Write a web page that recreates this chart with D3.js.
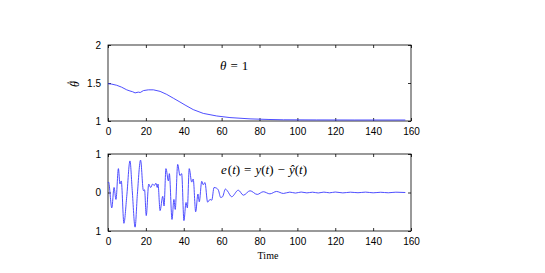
<!DOCTYPE html>
<html><head><meta charset="utf-8">
<script src="https://cdn.jsdelivr.net/npm/d3@7"></script>
<style>body{margin:0;background:#fff}svg{display:block}</style>
</head><body>
<script>
// ---- data ----
const xTicks = [0,20,40,60,80,100,120,140,160];
const thetaTicks = [1,1.5,2];
const thetaTickLabels = ["1","1.5","2"];
const eTicks = [-1,0,1];
const eTickLabels = ["1","0","1"];

const thetaTime = [0,2,4.6,7.2,9.9,11.6,13,14.3,16,17,18.7,21.3,24,27.5,31,34.5,38,40.7,45,50.3,57.4,64.4,75,85,92.6,110,130,157];
const thetaValue = [1.49,1.485,1.47,1.445,1.41,1.395,1.385,1.37,1.38,1.375,1.40,1.41,1.41,1.39,1.35,1.30,1.25,1.21,1.15,1.10,1.066,1.045,1.028,1.02,1.016,1.014,1.013,1.013];

const eTime = [0,0.3,2,3.2,4.2,5.5,6.3,7,8.4,9.9,11.6,12.8,14.3,15.5,17.2,18.7,19.3,20.2,21.5,22.5,23.6,24.4,25.3,26,26.4,27.5,28.9,29.6,30.6,31.9,32.4,33.8,34.8,35.5,36.8,38,38.9,40.1,41.2,41.9,42.9,44.2,45,46.3,47.5,48.2,49.5,50.3,51.2,52.6,53.9,54.8,56,57.4,58.3,59.5,60.5,62,63,65.3,68.8,71.5,75,78.8,82,85.5,89,92.6,96,99,102,105,108,111,114,117,120,124,128,132,136,140,144,148,152,157];
const eValue = [0.25,0.27,-0.4,0.13,-0.18,0.62,0.22,0.3,-0.8,-0.1,0.82,0.05,-0.9,-0.05,0.84,0.05,0.07,-0.6,0.22,0.13,0.22,0.18,0.24,0.13,0.22,-0.47,-0.1,-0.35,0.62,0.3,0.49,-0.7,-0.18,-0.44,0.73,0.44,0.49,-0.73,-0.26,-0.4,0.62,0.27,0.35,-0.5,-0.04,-0.24,0.29,0.2,0.26,-0.25,-0.18,-0.2,0.13,0.11,0.06,-0.13,-0.11,0.09,0.045,-0.11,0.06,-0.07,0.045,-0.05,0.02,-0.035,0.027,-0.025,0.01,-0.015,0.012,-0.01,0.008,-0.012,0.01,-0.008,0.012,-0.01,0.008,-0.006,0.01,-0.008,0.006,-0.007,0.008,0];

// ---- layout ----
const W=545,H=273;
const svg=d3.select("body").append("svg").attr("width",W).attr("height",H);
const L=108,R=411;
const top1=45,bot1=121,top2=154,bot2=231;
const lineColor="#3a3aff";
const tickFont="Liberation Sans, Arial, sans-serif";
const serif="Liberation Serif, 'DejaVu Serif', serif";

const x=d3.scaleLinear().domain([0,160]).range([L,R]);
const y1=d3.scaleLinear().domain([1,2]).range([bot1,top1]);
const y2=d3.scaleLinear().domain([-1,1]).range([bot2,top2]);

function panel(y,yt,ytl,top,bot){
  const g=svg.append("g");
  g.append("g").attr("transform",`translate(0,${bot})`)
    .call(d3.axisBottom(x).tickValues(xTicks).tickSize(-3).tickPadding(7).tickFormat(d3.format("d")));
  g.append("g").attr("transform",`translate(0,${top})`)
    .call(d3.axisTop(x).tickValues(xTicks).tickSize(-3).tickFormat(""));
  g.append("g").attr("transform",`translate(${L},0)`)
    .call(d3.axisLeft(y).tickValues(yt).tickSize(-3).tickPadding(7).tickFormat((d,i)=>ytl[i]));
  g.append("g").attr("transform",`translate(${R},0)`)
    .call(d3.axisRight(y).tickValues(yt).tickSize(-3).tickFormat(""));
  g.selectAll(".domain").remove();
  g.selectAll(".tick line").attr("stroke","#000").attr("stroke-width",0.8);
  g.selectAll(".tick text").attr("font-family",tickFont).attr("font-size","10px").attr("fill","#000");
  g.append("rect").attr("x",L).attr("y",top).attr("width",R-L).attr("height",bot-top)
    .attr("fill","none").attr("stroke","#000").attr("stroke-width",0.8);
  return g;
}
panel(y1,thetaTicks,thetaTickLabels,top1,bot1);
panel(y2,eTicks,eTickLabels,top2,bot2);

svg.append("path").datum(thetaTime.map((t,i)=>[t,thetaValue[i]]))
  .attr("d",d3.line().x(d=>x(d[0])).y(d=>y1(d[1])))
  .attr("fill","none").attr("stroke",lineColor).attr("stroke-width",0.9);
svg.append("path").datum(eTime.map((t,i)=>[t,eValue[i]]))
  .attr("d",d3.line().curve(d3.curveMonotoneX).x(d=>x(d[0])).y(d=>y2(d[1])))
  .attr("fill","none").attr("stroke",lineColor).attr("stroke-width",0.9);

// annotations
svg.append("text").attr("x",220).attr("y",70).attr("font-family",serif).attr("font-size","13px")
  .html('<tspan font-style="italic">θ</tspan><tspan dx="4">=</tspan><tspan dx="4">1</tspan>');
svg.append("text").attr("x",221).attr("y",174).attr("font-family",serif).attr("font-size","13px")
  .html('<tspan font-style="italic">e</tspan><tspan dx="1">(</tspan><tspan font-style="italic">t</tspan>)<tspan dx="4">=</tspan><tspan dx="4" font-style="italic">y</tspan>(<tspan font-style="italic">t</tspan>)<tspan dx="4">−</tspan><tspan dx="4" font-style="italic">ŷ</tspan>(<tspan font-style="italic">t</tspan>)');
svg.append("text").attr("x",268).attr("y",259).attr("text-anchor","middle")
  .attr("font-family",serif).attr("font-size","10px").text("Time");
const yl=svg.append("g").attr("transform","translate(79,84) rotate(-90)");
yl.append("text").attr("text-anchor","middle").attr("font-family",serif)
  .attr("font-size","12px").attr("font-style","italic").text("θ");
yl.append("text").attr("x",1).attr("y",-5).attr("text-anchor","middle").attr("font-family",serif)
  .attr("font-size","10px").text("^");
</script>
</body></html>
